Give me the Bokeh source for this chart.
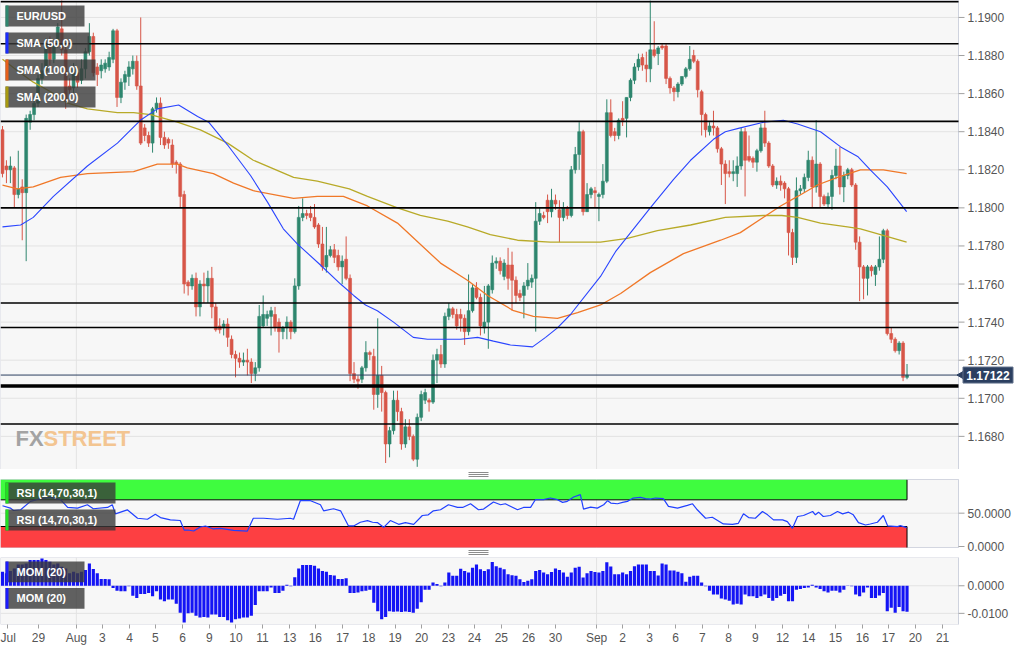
from math import pi
from bokeh.plotting import figure
from bokeh.layouts import column
from bokeh.models import Range1d, FixedTicker
from bokeh.embed import file_html
from bokeh.resources import INLINE
from bokeh.core.properties import value

# ---------------- data (EUR/USD, 4H candles) ----------------
opens = [
    1.1841, 1.1822, 1.1820, 1.1821, 1.1807, 1.1811, 1.1808, 1.1845, 1.1849, 1.1855,
    1.1868, 1.1872, 1.1887, 1.1878, 1.1887, 1.1894, 1.1883, 1.1864, 1.1863, 1.1871,
    1.1867, 1.1873, 1.1882, 1.1890, 1.1874, 1.1872, 1.1873, 1.1874, 1.1878, 1.1893,
    1.1858, 1.1866, 1.1869, 1.1873, 1.1877, 1.1864, 1.1842, 1.1838, 1.1834, 1.1852,
    1.1855, 1.1837, 1.1836, 1.1833, 1.1824, 1.1823, 1.1807, 1.1761, 1.1759, 1.1763,
    1.1748, 1.1760, 1.1759, 1.1763, 1.1748, 1.1738, 1.1737, 1.1739, 1.1731, 1.1723,
    1.1721, 1.1719, 1.1720, 1.1719, 1.1713, 1.1716, 1.1738, 1.1742, 1.1743, 1.1744,
    1.1740, 1.1735, 1.1737, 1.1740, 1.1735, 1.1759, 1.1795, 1.1797, 1.1797, 1.1795,
    1.1791, 1.1781, 1.1769, 1.1775, 1.1778, 1.1775, 1.1769, 1.1773, 1.1763, 1.1713,
    1.1710, 1.1710, 1.1716, 1.1724, 1.1722, 1.1702, 1.1712, 1.1703, 1.1676, 1.1683,
    1.1699, 1.1693, 1.1676, 1.1685, 1.1680, 1.1668, 1.1690, 1.1699, 1.1699, 1.1698,
    1.1720, 1.1723, 1.1718, 1.1743, 1.1747, 1.1744, 1.1744, 1.1742, 1.1735, 1.1746,
    1.1758, 1.1753, 1.1737, 1.1740, 1.1757, 1.1771, 1.1772, 1.1764, 1.1770, 1.1770,
    1.1762, 1.1755, 1.1754, 1.1759, 1.1761, 1.1763, 1.1793, 1.1796, 1.1804, 1.1798,
    1.1804, 1.1799, 1.1795, 1.1800, 1.1796, 1.1820, 1.1828, 1.1840, 1.1798, 1.1807,
    1.1809, 1.1806, 1.1807, 1.1814, 1.1850, 1.1840, 1.1838, 1.1847, 1.1847, 1.1858,
    1.1867, 1.1874, 1.1879, 1.1875, 1.1873, 1.1883, 1.1881, 1.1885, 1.1885, 1.1868,
    1.1863, 1.1861, 1.1865, 1.1869, 1.1873, 1.1880, 1.1877, 1.1861, 1.1849, 1.1840,
    1.1843, 1.1842, 1.1831, 1.1823, 1.1819, 1.1818, 1.1818, 1.1822, 1.1840, 1.1827,
    1.1826, 1.1824, 1.1830, 1.1842, 1.1834, 1.1822, 1.1812, 1.1814, 1.1813, 1.1810,
    1.1787, 1.1774, 1.1809, 1.1810, 1.1816, 1.1825, 1.1811, 1.1823, 1.1806, 1.1802,
    1.1806, 1.1817, 1.1822, 1.1811, 1.1817, 1.1820, 1.1812, 1.1782, 1.1769, 1.1763,
    1.1769, 1.1765, 1.1769, 1.1773, 1.1788, 1.1734, 1.1731, 1.1725, 1.1729, 1.1711,
]
highs = [
    1.1843, 1.1825, 1.1827, 1.1822, 1.1830, 1.1815, 1.1849, 1.1851, 1.1859, 1.1870,
    1.1876, 1.1889, 1.1890, 1.1888, 1.1897, 1.1910, 1.1885, 1.1868, 1.1876, 1.1874,
    1.1878, 1.1884, 1.1897, 1.1892, 1.1876, 1.1878, 1.1878, 1.1882, 1.1894, 1.1894,
    1.1868, 1.1872, 1.1877, 1.1880, 1.1880, 1.1900, 1.1844, 1.1840, 1.1853, 1.1858,
    1.1858, 1.1840, 1.1837, 1.1836, 1.1825, 1.1824, 1.1809, 1.1762, 1.1765, 1.1766,
    1.1762, 1.1766, 1.1767, 1.1769, 1.1750, 1.1742, 1.1741, 1.1742, 1.1733, 1.1725,
    1.1724, 1.1724, 1.1726, 1.1721, 1.1719, 1.1749, 1.1754, 1.1746, 1.1748, 1.1748,
    1.1742, 1.1738, 1.1743, 1.1741, 1.1763, 1.1801, 1.1805, 1.1799, 1.1801, 1.1802,
    1.1792, 1.1790, 1.1790, 1.1780, 1.1781, 1.1778, 1.1775, 1.1785, 1.1765, 1.1719,
    1.1712, 1.1717, 1.1730, 1.1725, 1.1726, 1.1742, 1.1717, 1.1704, 1.1685, 1.1704,
    1.1704, 1.1695, 1.1689, 1.1689, 1.1681, 1.1692, 1.1704, 1.1705, 1.1700, 1.1723,
    1.1726, 1.1728, 1.1745, 1.1750, 1.1748, 1.1747, 1.1747, 1.1744, 1.1765, 1.1760,
    1.1761, 1.1755, 1.1759, 1.1760, 1.1775, 1.1774, 1.1774, 1.1773, 1.1779, 1.1777,
    1.1764, 1.1757, 1.1761, 1.1771, 1.1765, 1.1803, 1.1800, 1.1798, 1.1807, 1.1810,
    1.1807, 1.1804, 1.1803, 1.1801, 1.1822, 1.1832, 1.1845, 1.1841, 1.1813, 1.1811,
    1.1811, 1.1808, 1.1823, 1.1857, 1.1857, 1.1842, 1.1847, 1.1856, 1.1858, 1.1868,
    1.1876, 1.1881, 1.1881, 1.1882, 1.1909, 1.1898, 1.1885, 1.1886, 1.1886, 1.1869,
    1.1864, 1.1866, 1.1869, 1.1874, 1.1885, 1.1883, 1.1878, 1.1862, 1.1850, 1.1845,
    1.1851, 1.1843, 1.1832, 1.1825, 1.1825, 1.1825, 1.1827, 1.1842, 1.1842, 1.1838,
    1.1827, 1.1831, 1.1844, 1.1851, 1.1835, 1.1823, 1.1816, 1.1817, 1.1814, 1.1811,
    1.1789, 1.1816, 1.1812, 1.1818, 1.1830, 1.1827, 1.1846, 1.1824, 1.1807, 1.1808,
    1.1820, 1.1831, 1.1832, 1.1819, 1.1821, 1.1821, 1.1813, 1.1785, 1.1770, 1.1770,
    1.1770, 1.1770, 1.1785, 1.1789, 1.1789, 1.1737, 1.1732, 1.1730, 1.1730, 1.1718,
]
lows = [
    1.1816, 1.1813, 1.1813, 1.1800, 1.1805, 1.1783, 1.1772, 1.1841, 1.1846, 1.1853,
    1.1865, 1.1870, 1.1875, 1.1876, 1.1884, 1.1880, 1.1852, 1.1858, 1.1860, 1.1863,
    1.1865, 1.1868, 1.1880, 1.1869, 1.1864, 1.1868, 1.1871, 1.1872, 1.1876, 1.1853,
    1.1855, 1.1862, 1.1864, 1.1870, 1.1862, 1.1833, 1.1835, 1.1832, 1.1829, 1.1850,
    1.1833, 1.1831, 1.1831, 1.1821, 1.1818, 1.1800, 1.1755, 1.1754, 1.1757, 1.1743,
    1.1743, 1.1750, 1.1750, 1.1742, 1.1735, 1.1734, 1.1733, 1.1727, 1.1721, 1.1711,
    1.1716, 1.1717, 1.1712, 1.1708, 1.1709, 1.1714, 1.1737, 1.1738, 1.1733, 1.1735,
    1.1724, 1.1731, 1.1731, 1.1731, 1.1734, 1.1757, 1.1793, 1.1794, 1.1793, 1.1789,
    1.1779, 1.1767, 1.1766, 1.1774, 1.1771, 1.1767, 1.1760, 1.1762, 1.1709, 1.1708,
    1.1705, 1.1708, 1.1714, 1.1720, 1.1694, 1.1695, 1.1693, 1.1666, 1.1669, 1.1681,
    1.1688, 1.1673, 1.1674, 1.1678, 1.1667, 1.1664, 1.1688, 1.1697, 1.1693, 1.1697,
    1.1708, 1.1716, 1.1716, 1.1741, 1.1742, 1.1736, 1.1735, 1.1728, 1.1733, 1.1745,
    1.1752, 1.1733, 1.1734, 1.1726, 1.1755, 1.1768, 1.1765, 1.1762, 1.1757, 1.1746,
    1.1750, 1.1751, 1.1742, 1.1757, 1.1758, 1.1735, 1.1791, 1.1794, 1.1792, 1.1795,
    1.1799, 1.1782, 1.1793, 1.1794, 1.1795, 1.1818, 1.1820, 1.1796, 1.1798, 1.1805,
    1.1800, 1.1793, 1.1805, 1.1813, 1.1837, 1.1835, 1.1836, 1.1843, 1.1837, 1.1856,
    1.1865, 1.1872, 1.1872, 1.1866, 1.1866, 1.1879, 1.1875, 1.1883, 1.1865, 1.1860,
    1.1856, 1.1858, 1.1864, 1.1868, 1.1872, 1.1876, 1.1858, 1.1838, 1.1837, 1.1838,
    1.1838, 1.1829, 1.1812, 1.1802, 1.1816, 1.1814, 1.1811, 1.1820, 1.1806, 1.1824,
    1.1821, 1.1819, 1.1829, 1.1832, 1.1821, 1.1811, 1.1810, 1.1809, 1.1805, 1.1775,
    1.1770, 1.1771, 1.1807, 1.1808, 1.1814, 1.1800, 1.1808, 1.1800, 1.1801, 1.1800,
    1.1799, 1.1815, 1.1807, 1.1803, 1.1815, 1.1811, 1.1778, 1.1751, 1.1752, 1.1754,
    1.1764, 1.1759, 1.1767, 1.1771, 1.1733, 1.1729, 1.1724, 1.1723, 1.1709, 1.1710,
]
closes = [
    1.1818, 1.1820, 1.1822, 1.1807, 1.1810, 1.1808, 1.1847, 1.1849, 1.1855, 1.1868,
    1.1872, 1.1886, 1.1878, 1.1886, 1.1895, 1.1883, 1.1856, 1.1862, 1.1873, 1.1866,
    1.1873, 1.1882, 1.1890, 1.1871, 1.1870, 1.1875, 1.1876, 1.1879, 1.1893, 1.1858,
    1.1866, 1.1870, 1.1874, 1.1877, 1.1864, 1.1834, 1.1838, 1.1834, 1.1852, 1.1855,
    1.1837, 1.1833, 1.1834, 1.1823, 1.1823, 1.1806, 1.1760, 1.1759, 1.1763, 1.1748,
    1.1760, 1.1759, 1.1763, 1.1748, 1.1736, 1.1736, 1.1739, 1.1732, 1.1723, 1.1721,
    1.1719, 1.1720, 1.1719, 1.1713, 1.1716, 1.1743, 1.1744, 1.1744, 1.1746, 1.1737,
    1.1735, 1.1737, 1.1740, 1.1735, 1.1759, 1.1795, 1.1797, 1.1796, 1.1795, 1.1790,
    1.1781, 1.1769, 1.1775, 1.1778, 1.1774, 1.1769, 1.1772, 1.1763, 1.1713, 1.1710,
    1.1709, 1.1716, 1.1724, 1.1723, 1.1702, 1.1712, 1.1703, 1.1676, 1.1683, 1.1699,
    1.1693, 1.1676, 1.1685, 1.1680, 1.1668, 1.1690, 1.1702, 1.1703, 1.1698, 1.1720,
    1.1723, 1.1718, 1.1743, 1.1747, 1.1744, 1.1738, 1.1742, 1.1735, 1.1746, 1.1758,
    1.1753, 1.1738, 1.1740, 1.1759, 1.1771, 1.1772, 1.1767, 1.1771, 1.1763, 1.1762,
    1.1754, 1.1753, 1.1759, 1.1762, 1.1763, 1.1793, 1.1797, 1.1795, 1.1798, 1.1804,
    1.1802, 1.1795, 1.1800, 1.1796, 1.1820, 1.1828, 1.1840, 1.1798, 1.1807, 1.1810,
    1.1808, 1.1807, 1.1814, 1.1850, 1.1838, 1.1838, 1.1846, 1.1846, 1.1858, 1.1867,
    1.1874, 1.1878, 1.1875, 1.1873, 1.1883, 1.1880, 1.1884, 1.1884, 1.1868, 1.1863,
    1.1861, 1.1865, 1.1869, 1.1873, 1.1878, 1.1877, 1.1862, 1.1849, 1.1841, 1.1843,
    1.1842, 1.1831, 1.1823, 1.1818, 1.1818, 1.1819, 1.1822, 1.1840, 1.1825, 1.1825,
    1.1824, 1.1830, 1.1842, 1.1834, 1.1822, 1.1812, 1.1814, 1.1812, 1.1810, 1.1787,
    1.1774, 1.1809, 1.1810, 1.1816, 1.1825, 1.1811, 1.1823, 1.1806, 1.1802, 1.1806,
    1.1817, 1.1822, 1.1811, 1.1817, 1.1820, 1.1812, 1.1782, 1.1769, 1.1763, 1.1769,
    1.1767, 1.1769, 1.1773, 1.1788, 1.1734, 1.1731, 1.1725, 1.1729, 1.1711, 1.17122,
]

# moving averages at (candle index, value)
sma50_x = [0, 4.6, 7.8, 12.9, 21.5, 29.1, 34.9, 39.2, 44.6, 49.4, 52.2, 57.0, 62.8, 67.1, 71.1,
           74.7, 80.5, 85.6, 88.9, 91.9, 94.9, 99.0, 104.0, 107.6, 116.0, 120.3, 124.3, 128.6,
           134.2, 137.5, 140.5, 143.8, 151.4, 155.2, 164.0, 169.9, 174.2, 180.0, 183.0, 186.8,
           192.7, 197.7, 201.3, 207.1, 212.2, 216.5, 219.7, 224.0, 228.9]
sma50_v = [1.1790, 1.1791, 1.1795, 1.1806, 1.1822, 1.1834, 1.1846, 1.1852, 1.1854, 1.1848, 1.1845,
           1.1833, 1.1817, 1.1803, 1.1789, 1.1781, 1.1770, 1.1760, 1.1754, 1.1749, 1.1746, 1.1740,
           1.1732, 1.1731, 1.1731, 1.1732, 1.1730, 1.1728, 1.1727, 1.1732, 1.1737, 1.1744, 1.1764,
           1.1777, 1.1800, 1.1815, 1.1825, 1.1836, 1.1840, 1.1842, 1.1845, 1.1846, 1.1844, 1.1840,
           1.1832, 1.1827, 1.1820, 1.1811, 1.1798]
sma100_x = [0, 3.8, 7.8, 14.7, 21.5, 33.2, 39.2, 44.3, 46.8, 53.4, 58.5, 63.5, 73.7, 79.7, 86.3,
            92.4, 100.0, 110.9, 117.7, 122.8, 129.4, 134.4, 140.5, 145.6, 151.4, 156.5, 164.0,
            172.4, 181.8, 186.8, 191.9, 197.0, 201.3, 206.3, 211.4, 217.2, 223.0, 228.9]
sma100_v = [1.1812, 1.1810, 1.1811, 1.1816, 1.1818, 1.1819, 1.1823, 1.1823, 1.1821, 1.1818, 1.1813,
            1.1809, 1.1805, 1.1806, 1.1806, 1.1801, 1.1792, 1.1771, 1.1762, 1.1754, 1.1746, 1.1743,
            1.1742, 1.1745, 1.1749, 1.1755, 1.1766, 1.1776, 1.1783, 1.1787, 1.1794, 1.1801, 1.1806,
            1.1812, 1.1816, 1.1820, 1.1820, 1.1818]
sma200_x = [0, 3.8, 7.8, 12.2, 16.5, 21.5, 29.1, 33.2, 37.5, 44.3, 50.1, 57.0, 63.5, 73.7, 79.7,
            87.8, 92.4, 100.0, 105.8, 112.7, 117.7, 123.5, 130.4, 138.7, 151.4, 158.2, 165.8,
            174.2, 183.0, 192.7, 197.3, 201.3, 207.1, 213.9, 217.2, 222.3, 228.9]
sma200_v = [1.1878, 1.1872, 1.1866, 1.1861, 1.1855, 1.1852, 1.1850, 1.1850, 1.1849, 1.1845, 1.1841,
            1.1834, 1.1825, 1.1816, 1.1814, 1.1810, 1.1806, 1.1800, 1.1796, 1.1793, 1.1790, 1.1786,
            1.1783, 1.1782, 1.1782, 1.1784, 1.1788, 1.1791, 1.1795, 1.1796, 1.1796, 1.1795, 1.1792,
            1.1790, 1.1789, 1.1786, 1.1782]

# support / resistance levels drawn on the chart
levels = [1.19083, 1.18862, 1.18454, 1.18000, 1.17500, 1.17372, 1.16865]
key_level = 1.17064

# RSI (14) at (candle index, value)
rsi_x = [0, 2.0, 2.8, 4.6, 7.1, 9.6, 12.2, 14.7, 16.5, 19.0, 21.5, 23.0, 26.6, 27.8, 28.6, 31.6,
         34.2, 36.7, 38.7, 40.0, 42.5, 45.0, 46.0, 47.0, 48.4, 50.1, 51.4, 53.4, 55.2, 58.5, 62.0,
         63.5, 66.1, 69.6, 72.9, 73.7, 75.4, 78.0, 80.5, 81.3, 83.8, 85.6, 87.6, 88.9, 90.6, 92.4,
         93.7, 94.9, 96.5, 98.2, 100.3, 102.0, 104.1, 106.3, 107.8, 109.1, 110.9, 112.9, 115.2,
         116.5, 118.5, 120.5, 121.8, 124.3, 126.1, 127.3, 130.4, 131.9, 133.7, 134.9, 137.0,
         138.7, 140.5, 141.8, 143.0, 144.6, 146.3, 147.1, 148.9, 150.6, 152.2, 153.2, 154.0,
         155.7, 157.0, 158.2, 159.7, 161.5, 162.8, 164.1, 165.3, 167.3, 168.6, 170.9, 173.4,
         174.7, 175.9, 178.0, 179.7, 182.5, 184.8, 186.3, 187.6, 188.9, 190.6, 192.4, 193.7,
         195.2, 197.5, 198.7, 200.0, 201.3, 202.8, 205.1, 205.8, 206.6, 207.8, 209.6, 211.4,
         212.7, 214.2, 215.4, 216.7, 218.5, 219.7, 221.5, 223.0, 224.1, 226.6, 227.3, 228.9]
rsi_v = [61.1, 57.6, 54.0, 55.1, 67.7, 71.7, 73.7, 70.2, 58.6, 57.6, 62.6, 56.6, 58.6, 62.6, 49.0,
         55.0, 42.4, 40.9, 48.5, 43.4, 39.9, 39.0, 24.7, 24.7, 23.2, 29.3, 30.8, 26.3, 27.3, 24.2,
         23.2, 42.4, 42.4, 40.9, 42.4, 40.9, 68.7, 68.7, 62.6, 53.5, 56.6, 53.5, 30.8, 30.8, 36.4,
         38.9, 36.4, 35.9, 28.8, 38.9, 33.3, 35.9, 33.3, 46.5, 47.5, 53.5, 55.1, 62.6, 58.6, 58.6,
         64.1, 55.1, 56.1, 66.7, 62.6, 64.1, 55.1, 58.6, 58.6, 70.2, 70.2, 72.7, 70.2, 66.2, 67.7,
         74.2, 77.8, 56.1, 59.1, 57.6, 62.6, 68.7, 65.2, 64.1, 66.2, 67.7, 72.7, 73.7, 71.7, 71.2,
         72.7, 71.7, 60.1, 57.6, 61.6, 64.1, 55.1, 42.4, 43.9, 33.8, 33.3, 34.8, 49.0, 43.4, 42.4,
         52.5, 47.5, 39.9, 39.9, 37.4, 27.3, 45.0, 46.5, 52.5, 47.5, 51.5, 45.0, 46.5, 52.5, 49.0,
         51.5, 47.5, 35.9, 32.3, 33.8, 36.4, 46.5, 30.8, 29.8, 31.3, 28.3]

# Momentum (20), one bar per candle
mom = [
    0.0051, 0.0045, 0.0054, 0.0063, 0.0077, 0.0077, 0.0081, 0.0093, 0.0093, 0.0093,
    0.0099, 0.0093, 0.0087, 0.0077, 0.0081, 0.0069, 0.0063, 0.0045, 0.0051, 0.0045,
    0.0051, 0.0057, 0.0081, 0.0061, 0.0045, 0.0025, 0.0025, 0.0024, -0.0008, -0.0018,
    -0.0020, -0.0020, -0.0002, -0.0036, -0.0044, -0.0030, -0.0030, -0.0026, -0.0038, -0.0020,
    -0.0050, -0.0056, -0.0050, -0.0050, -0.0065, -0.0098, -0.0133, -0.0100, -0.0098, -0.0109,
    -0.0115, -0.0113, -0.0115, -0.0104, -0.0104, -0.0113, -0.0113, -0.0125, -0.0133, -0.0121,
    -0.0119, -0.0115, -0.0115, -0.0109, -0.0070, -0.0020, -0.0020, -0.0020, -0.0006, -0.0026,
    -0.0026, -0.0018, 0.0004, -0.0002, 0.0031, 0.0063, 0.0075, 0.0075, 0.0075, 0.0073,
    0.0063, 0.0054, 0.0051, 0.0039, 0.0037, 0.0025, 0.0025, 0.0027, -0.0026, -0.0026,
    -0.0024, -0.0020, -0.0018, -0.0014, -0.0062, -0.0092, -0.0121, -0.0113, -0.0092, -0.0094,
    -0.0093, -0.0095, -0.0093, -0.0095, -0.0098, -0.0083, -0.0060, -0.0014, -0.0014, 0.0012,
    0.0006, -0.0002, 0.0012, 0.0048, 0.0036, 0.0036, 0.0062, 0.0054, 0.0048, 0.0065,
    0.0077, 0.0060, 0.0054, 0.0060, 0.0086, 0.0071, 0.0065, 0.0060, 0.0042, 0.0038,
    0.0036, 0.0024, 0.0014, 0.0018, 0.0024, 0.0054, 0.0057, 0.0048, 0.0042, 0.0050,
    0.0063, 0.0057, 0.0048, 0.0033, 0.0048, 0.0065, 0.0069, 0.0030, 0.0045, 0.0054,
    0.0050, 0.0048, 0.0054, 0.0085, 0.0070, 0.0042, 0.0042, 0.0048, 0.0042, 0.0054,
    0.0071, 0.0077, 0.0077, 0.0077, 0.0054, 0.0054, 0.0037, 0.0081, 0.0077, 0.0055,
    0.0055, 0.0051, 0.0045, 0.0015, 0.0033, 0.0036, 0.0036, 0.0012, -0.0002, -0.0018,
    -0.0032, -0.0032, -0.0046, -0.0050, -0.0054, -0.0068, -0.0065, -0.0068, -0.0032, -0.0038,
    -0.0038, -0.0044, -0.0038, -0.0032, -0.0044, -0.0054, -0.0044, -0.0036, -0.0030, -0.0056,
    -0.0056, -0.0014, -0.0012, -0.0008, -0.0006, 0.0004, -0.0006, -0.0012, -0.0020, -0.0024,
    -0.0018, -0.0018, -0.0024, -0.0014, 0.0001, -0.0002, -0.0032, -0.0038, -0.0024, -0.0006,
    -0.0044, -0.0044, -0.0035, -0.0026, -0.0092, -0.0080, -0.0098, -0.0077, -0.0092, -0.0094,
]

# x-axis labels at candle-index positions
tick_labels = ["Jul", "29", "Aug", "3", "4", "5", "6", "9", "10", "11", "13", "16", "17", "18",
               "19", "20", "23", "24", "25", "26", "30", "Sep", "2", "3", "6", "7", "8",
               "9", "12", "14", "15", "16", "17", "20", "21"]
tick_pos = [1.3, 9.1, 18.7, 25.3, 32.2, 38.7, 45.6, 52.4, 59.1, 65.8, 72.7, 79.2, 86.1, 92.7,
            99.4, 106.1, 112.9, 119.5, 126.3, 133.2, 140.0, 150.4, 157.0, 163.8, 170.4,
            177.2, 183.8, 190.6, 197.5, 204.1, 210.9, 217.7, 224.3, 231.1, 238.0]
month_lines = [18.7, 150.4]

price_ticks = [1.1680, 1.1700, 1.1720, 1.1740, 1.1760, 1.1780, 1.1800, 1.1820, 1.1840, 1.1860,
               1.1880, 1.1900]
rsi_ticks = [0, 50]
mom_ticks = [-0.01, 0.0]

# ---------------- layout / style ----------------
W = 1014
FRAME_W = 958          # width of the plotting area; the rest is the price scale
PRICE_H = 469
SUB_H = 68
GAP = 10
XAXIS_H = 22
SPACING = 3.95         # pixels per candle
PRICE_LIM = (1.16626, 1.19089)
RSI_LIM = (-1.5, 100.5)
MOM_LIM = (-0.01404, 0.01025)

FONT = "Liberation Sans"
GREEN = "#2e866e"
RED = "#d75648"
BLUE = "#2a45ff"
ORANGE = "#f07828"
OLIVE = "#b8aa28"
NAVY = "#2b3f60"
BG = "#f7f7f7"
GRID = "#e3e3e3"
EDGE = "#d3d6e0"
LABEL_C = "#555555"

N = len(closes)
idx = list(range(N))
x_start = -0.5
x_end = x_start + FRAME_W / SPACING   # right edge of the plotting area
px = 1.0 / SPACING                    # one pixel in candle units
xr = Range1d(x_start, x_start + W / SPACING)


def panel(chart_h, lim, top_px=0, bottom_px=0, axis_h=0, xloc=None):
    """Full-width figure; chart area spans x_start..x_end and lim, with free bands
    of top_px / bottom_px pixels above / below it inside the frame."""
    frame_h = chart_h + top_px + bottom_px
    upp = (lim[1] - lim[0]) / chart_h
    p = figure(width=W, height=frame_h + axis_h, x_range=xr,
               y_range=Range1d(lim[0] - bottom_px * upp, lim[1] + top_px * upp),
               output_backend="svg", toolbar_location=None, x_axis_location=xloc,
               y_axis_location=None, min_border_left=0, min_border_right=0,
               min_border_top=0, min_border_bottom=axis_h)
    p.background_fill_color = "white"
    p.border_fill_color = "white"
    p.outline_line_color = None
    p.grid.grid_line_color = None
    p.extra_x_ranges["px"] = Range1d(0, W)
    p.extra_y_ranges["py"] = Range1d(chart_h + bottom_px, -top_px)   # 0 = chart top
    p.quad(left=[x_start], right=[x_end], top=[lim[1]], bottom=[lim[0]], fill_color=BG,
           line_color=EDGE, level="underlay")
    p.segment(x0=month_lines, y0=[lim[0]] * len(month_lines), x1=month_lines,
              y1=[lim[1]] * len(month_lines), line_color=GRID, line_width=1, level="underlay")
    return p


def grid_and_scale(p, lim, grid_vals, ticks, labels):
    n = len(grid_vals)
    p.segment(x0=[x_start] * n, y0=grid_vals, x1=[x_end] * n, y1=grid_vals,
              line_color=GRID, line_width=1, level="underlay")
    m = len(ticks)
    p.segment(x0=[x_end], y0=[lim[0]], x1=[x_end], y1=[lim[1]], line_color="#cfd3de",
              line_width=1)
    p.segment(x0=[x_end] * m, y0=ticks, x1=[x_end + 6 * px] * m, y1=ticks,
              line_color="#a0a0a0", line_width=1)
    p.text(x=[x_end + 9 * px] * m, y=ticks, text=labels, text_baseline="middle",
           text_align="left", text_color=LABEL_C, text_font=value(FONT),
           text_font_size="12px")


def legend_boxes(p, names, widths, tops, bar_colors):
    for name, w, t, col in zip(names, widths, tops, bar_colors):
        p.quad(left=[5], right=[5 + w], top=[t], bottom=[t + 21], fill_color="#3a3a3a",
               fill_alpha=0.8, line_color=None, x_range_name="px", y_range_name="py")
        p.quad(left=[5], right=[8], top=[t], bottom=[t + 21], fill_color=col,
               line_color=None, x_range_name="px", y_range_name="py")
        p.text(x=[16], y=[t + 10.5], text=[name], text_baseline="middle", text_align="left",
               text_color="white", text_font=value(FONT), text_font_size="11px",
               text_font_style="bold", x_range_name="px", y_range_name="py")


def splitter(p, centre):
    """The small three-line drag handle drawn in the gap between panels."""
    ys = [centre - 2, centre, centre + 2]
    p.segment(x0=[468] * 3, y0=ys, x1=[488] * 3, y1=ys, line_color="#8c8c8c",
              line_width=1, x_range_name="px", y_range_name="py")


# ---------------- price panel ----------------
p1 = panel(PRICE_H, PRICE_LIM)
grid_and_scale(p1, PRICE_LIM, price_ticks, price_ticks, [f"{t:.4f}" for t in price_ticks])

colors = [GREEN if c >= o else RED for o, c in zip(opens, closes)]
tops = [max(o, c) for o, c in zip(opens, closes)]
bots = [min(o, c) for o, c in zip(opens, closes)]
p1.segment(x0=idx, y0=lows, x1=idx, y1=highs, line_color=colors, line_width=1)
p1.vbar(x=idx, width=0.74, top=tops, bottom=bots, fill_color=colors, line_color=colors,
        line_width=0.6)

p1.line(sma200_x, sma200_v, line_color=OLIVE, line_width=1.3)
p1.line(sma100_x, sma100_v, line_color=ORANGE, line_width=1.3)
p1.line(sma50_x, sma50_v, line_color=BLUE, line_width=1.1)

nl = len(levels)
p1.segment(x0=[x_start] * nl, y0=levels, x1=[x_end] * nl, y1=levels, line_color="black",
           line_width=1.6)
p1.segment(x0=[x_start], y0=[key_level], x1=[x_end], y1=[key_level], line_color="black",
           line_width=3.5)
p1.segment(x0=[x_start], y0=[closes[-1]], x1=[x_end], y1=[closes[-1]], line_color=NAVY,
           line_width=1)

# last price tag on the scale
p1.scatter(x=[x_end + 2.5 * px], y=[closes[-1]], marker="triangle", size=7, angle=pi / 2,
           fill_color=NAVY, line_color=NAVY)
p1.rect(x=[x_end + 29.5 * px], y=[closes[-1]], width=50, height=16, width_units="screen",
        height_units="screen", fill_color=NAVY, line_color="#60708a")
p1.text(x=[x_end + 29.5 * px], y=[closes[-1]], text=[f"{closes[-1]:.5f}"],
        text_baseline="middle", text_align="center", text_color="white",
        text_font=value(FONT), text_font_size="12px", text_font_style="bold")

legend_boxes(p1, ["EUR/USD", "SMA (50,0)", "SMA (100,0)", "SMA (200,0)"], [79, 84, 90, 90],
             [5, 32, 59, 86], [GREEN, "#1a2cff", "#e8601a", "#a89a10"])

p1.text(x=[15], y=[438], text=["FX"], text_baseline="middle", text_align="left",
        text_color="#a3a3a3", text_font=value(FONT), text_font_style="bold",
        text_font_size="22px", x_range_name="px", y_range_name="py")
p1.text(x=[43], y=[438], text=["STREET"], text_baseline="middle", text_align="left",
        text_color="#f3c591", text_font=value(FONT), text_font_style="bold",
        text_font_size="22px", x_range_name="px", y_range_name="py")

# ---------------- RSI panel ----------------
p2 = panel(SUB_H, RSI_LIM, top_px=GAP, bottom_px=GAP)
grid_and_scale(p2, RSI_LIM, [50], rsi_ticks, [f"{t:.4f}" for t in rsi_ticks])
last = idx[-1]
p2.quad(left=[x_start], right=[last], top=[100], bottom=[70], fill_color="#3ffc3f",
        line_color=None, level="underlay")
p2.quad(left=[x_start], right=[last], top=[30], bottom=[RSI_LIM[0]], fill_color="#fd3f42",
        line_color=None, level="underlay")
p2.segment(x0=[x_start, x_start, last, last], y0=[70, 30, 70, RSI_LIM[0]],
           x1=[last, last, last, last], y1=[70, 30, 100, 30], line_color="black", line_width=1)
p2.line(rsi_x, rsi_v, line_color="#2040ff", line_width=1.2)
legend_boxes(p2, ["RSI (14,70,30,1)", "RSI (14,70,30,1)"], [110, 110], [3, 30],
             ["#22e022", "#22e022"])
splitter(p2, -GAP / 2)
splitter(p2, SUB_H + GAP / 2)

# ---------------- MOM panel ----------------
p3 = panel(SUB_H, MOM_LIM, axis_h=XAXIS_H, xloc="below")
grid_and_scale(p3, MOM_LIM, mom_ticks, mom_ticks, [f"{t:.4f}" for t in mom_ticks])
p3.vbar(x=idx, width=0.8, top=mom, bottom=0, fill_color="#1414f5", line_color=None)
legend_boxes(p3, ["MOM (20)", "MOM (20)"], [79, 79], [4, 31], ["#1a1aff", "#1a1aff"])

xa = p3.xaxis[0]
xa.axis_line_color = None
xa.major_tick_line_color = "#a0a0a0"
xa.major_tick_out = 4
xa.major_tick_in = 0
xa.minor_tick_line_color = None
xa.major_label_text_color = LABEL_C
xa.major_label_text_font = FONT
xa.major_label_text_font_size = "12px"
xa.major_label_standoff = 2
xa.ticker = FixedTicker(ticks=tick_pos)
xa.major_label_overrides = {pos: lab for pos, lab in zip(tick_pos, tick_labels)}

layout = column(p1, p2, p3)
open("out.html", "w").write(file_html(layout, INLINE))
